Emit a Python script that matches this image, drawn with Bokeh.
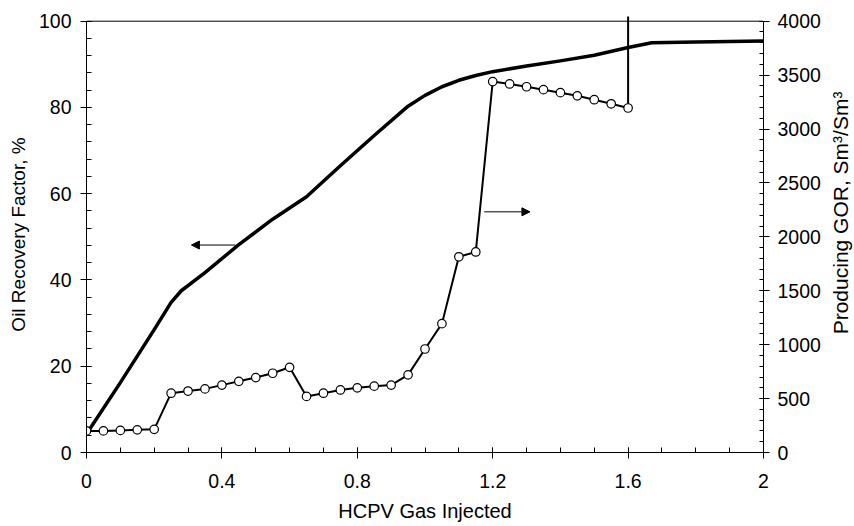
import math
from bokeh.plotting import figure
from bokeh.layouts import row
from bokeh.core.properties import value
from bokeh.models import (Range1d, LinearAxis, SingleIntervalTicker,
                          CustomJSTickFormatter, Arrow, NormalHead)
from bokeh.embed import file_html
from bokeh.resources import INLINE

# ---------------- data ----------------
# Oil recovery factor (%) vs HCPV gas injected (left axis)
orf_x = [0.0, 0.1, 0.2, 0.25, 0.28, 0.35, 0.45, 0.55, 0.65, 0.75, 0.85, 0.95,
         1.0, 1.05, 1.1, 1.15, 1.2, 1.3, 1.4, 1.5, 1.6, 1.67, 1.8, 2.0]
orf_y = [4.3, 16.2, 28.5, 34.8, 37.5, 41.7, 48.2, 54.1, 59.3, 66.5, 73.5, 80.3,
         82.8, 84.8, 86.3, 87.4, 88.3, 89.6, 90.8, 92.1, 93.9, 95.0, 95.2, 95.4]

# Producing GOR (Sm3/Sm3) vs HCPV gas injected (right axis)
gor_x = [0.0, 0.05, 0.1, 0.15, 0.2, 0.25, 0.3, 0.35, 0.4, 0.45, 0.5, 0.55, 0.6,
         0.65, 0.7, 0.75, 0.8, 0.85, 0.9, 0.95, 1.0, 1.05, 1.1, 1.15, 1.2,
         1.25, 1.3, 1.35, 1.4, 1.45, 1.5, 1.55, 1.6]
gor_y = [200, 200, 205, 210, 215, 550, 570, 590, 625, 660, 695, 735, 790,
         520, 550, 580, 600, 615, 625, 720, 960, 1195, 1815, 1860, 3440,
         3418, 3392, 3365, 3337, 3308, 3272, 3234, 3195]
gor_offscale = 6000  # GOR shoots off the scale after the last reading

X_MIN, X_MAX = 0.0, 2.0
Y_MAX = 100
GOR_MAX = 4000

x_label = "HCPV Gas Injected"
left_label = "Oil Recovery Factor, %"
right_label = "Producing GOR, Sm³/Sm³"

# arrows pointing to each curve's axis
left_arrow = dict(x_start=0.44, x_end=0.31, y=48.1)
right_arrow = dict(x_start=1.175, x_end=1.31, y=55.8)

FONT = "Liberation Sans"
FS = "19.5px"

# ---------------- main figure ----------------
p = figure(frame_width=677, frame_height=436,
           min_border_left=86, min_border_right=63,
           min_border_top=16, min_border_bottom=74,
           x_range=Range1d(X_MIN, X_MAX), y_range=Range1d(0, 101.09),
           x_axis_type=None, y_axis_type=None,
           output_backend="svg", toolbar_location=None)
p.outline_line_color = None
p.background_fill_color = "white"
p.border_fill_color = "white"
p.extra_y_ranges = {"gor": Range1d(0, GOR_MAX * 1.01090)}


def style(ax, tick_in, tick_out, minor_in, label_size):
    ax.axis_line_color = "black"
    ax.axis_line_width = 1
    ax.major_tick_line_color = "black"
    ax.major_tick_line_width = 1
    ax.major_tick_in = tick_in
    ax.major_tick_out = tick_out
    ax.minor_tick_line_color = "black"
    ax.minor_tick_line_width = 1
    ax.minor_tick_in = minor_in
    ax.minor_tick_out = 0
    ax.major_label_text_font = FONT
    ax.major_label_text_font_size = FS
    ax.major_label_text_color = "black"
    ax.axis_label_text_font = FONT
    ax.axis_label_text_font_size = label_size
    ax.axis_label_text_font_style = "normal"
    ax.axis_label_text_color = "black"


xaxis = LinearAxis(ticker=SingleIntervalTicker(interval=0.4, num_minor_ticks=4),
                   formatter=CustomJSTickFormatter(
                       code="return Number(tick.toFixed(2)).toString();"),
                   bounds=(X_MIN, X_MAX), axis_label=x_label)
style(xaxis, 5, 6, 5, "20px")
xaxis.major_label_standoff = 15
xaxis.axis_label_standoff = 9
p.add_layout(xaxis, "below")

yaxis = LinearAxis(ticker=SingleIntervalTicker(interval=20, num_minor_ticks=5),
                   bounds=(0, Y_MAX), axis_label=left_label)
style(yaxis, 5, 6, 5, "19px")
yaxis.major_label_standoff = 9
yaxis.axis_label_standoff = 7
p.add_layout(yaxis, "left")

raxis = LinearAxis(y_range_name="gor",
                   ticker=SingleIntervalTicker(interval=500, num_minor_ticks=5),
                   bounds=(0, GOR_MAX))
style(raxis, 4, 6, 4, "20px")
raxis.major_label_standoff = 8
p.add_layout(raxis, "right")

# top frame line
p.line(x=[X_MIN, X_MAX], y=[Y_MAX, Y_MAX], line_color="black", line_width=1)

# oil recovery factor
p.line(orf_x, orf_y, line_color="black", line_width=3.5, line_join="round")

# producing GOR
p.line(gor_x + [gor_x[-1]], gor_y + [gor_offscale], y_range_name="gor",
       line_color="black", line_width=2, line_join="round")
p.scatter(gor_x, gor_y, y_range_name="gor", marker="circle", size=8.5,
          fill_color="white", line_color="black", line_width=1.2)

for a in (left_arrow, right_arrow):
    p.add_layout(Arrow(end=NormalHead(size=8, fill_color="black",
                                      line_color="black", line_width=1),
                       x_start=a["x_start"], y_start=a["y"],
                       x_end=a["x_end"], y_end=a["y"],
                       line_color="black", line_width=1))

# ---------------- right axis title (reads bottom-to-top) ----------------
q = figure(width=28, height=526, min_border=0,
           x_range=Range1d(0, 1), y_range=Range1d(0, 526),
           x_axis_type=None, y_axis_type=None,
           output_backend="svg", toolbar_location=None)
q.outline_line_color = None
q.background_fill_color = "white"
q.border_fill_color = "white"
q.text(x=[0.5], y=[526 - 237], text=[right_label], angle=math.pi / 2,
       text_align="center", text_baseline="middle",
       text_font=value(FONT), text_font_size="21px", text_color="black")

layout = row(p, q)
open("out.html", "w").write(file_html(layout, INLINE))
